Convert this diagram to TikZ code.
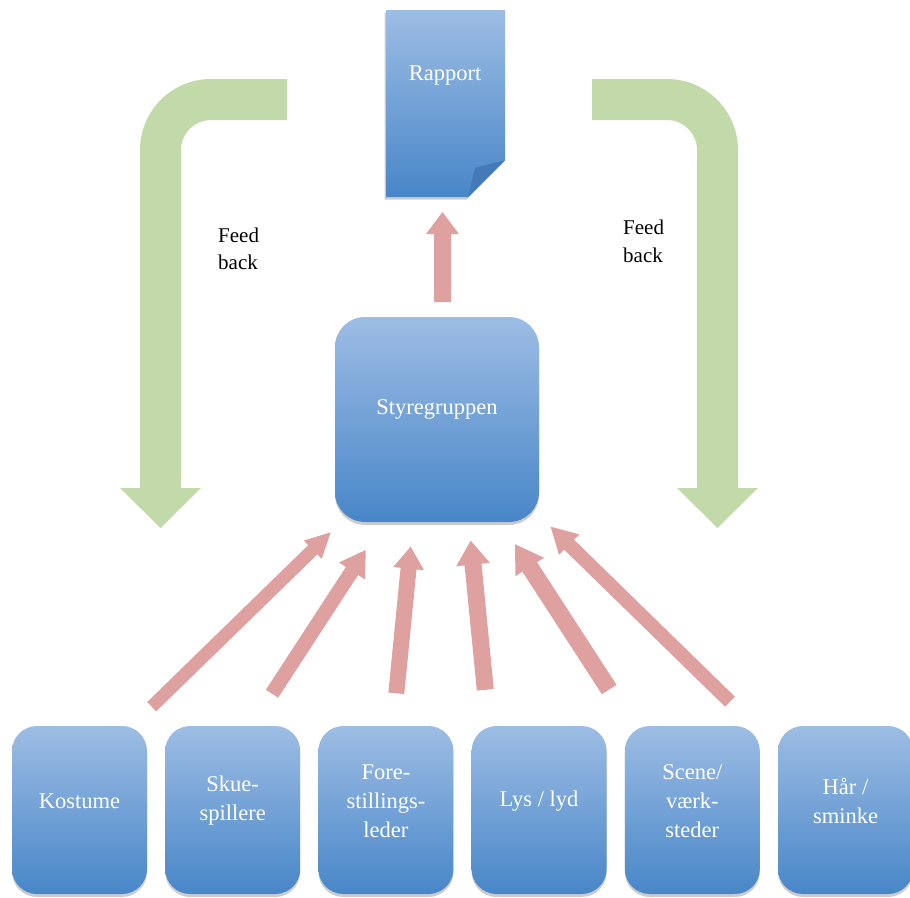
\documentclass[tikz,border=0pt]{standalone}
\usepackage{fontspec}
\setmainfont{Liberation Serif}
\usetikzlibrary{calc,shadows}
\definecolor{boxtop}{RGB}{157,189,228}
\definecolor{boxbot}{RGB}{72,134,200}
\definecolor{flapc}{RGB}{68,122,184}
\definecolor{arrowred}{RGB}{223,160,160}
\definecolor{arrowgreen}{RGB}{194,217,169}
\tikzset{
  bluebox/.style={rectangle, rounded corners=#1, top color=boxtop, bottom color=boxbot,
    draw=none, inner sep=0pt,
    drop shadow={shadow xshift=0pt, shadow yshift=-3pt, opacity=0.4}},
  bluebox/.default=25pt,
  smallbox/.style={bluebox=25pt, minimum width=135pt, minimum height=168pt},
  boxlabel/.style={text=white, align=center, inner sep=0pt, font=\fontsize{22.5}{29}\selectfont},
  feedtext/.style={text=black, align=left, inner sep=0pt, font=\fontsize{21}{27.5}\selectfont},
}
% tail, tip, half shaft width, half head width, head length
\newcommand\fatarrow[5]{%
  \coordinate (fa-b) at ($(#2)!#5!(#1)$);
  \fill[arrowred] ($(#1)!#3!90:(#2)$) -- ($(fa-b)!#3!90:(#2)$) -- ($(fa-b)!#4!90:(#2)$)
    -- (#2) -- ($(fa-b)!#4!-90:(#2)$) -- ($(fa-b)!#3!-90:(#2)$) -- ($(#1)!#3!-90:(#2)$) -- cycle;}
\begin{document}
\begin{tikzpicture}[x=1pt,y=-1pt]
\useasboundingbox (0,0) rectangle (910,897);
% feedback arrows
\fill[arrowgreen] (287,79) -- (211,79) .. controls (171.8,79) and (140,110.8) .. (140,150)
  -- (140,488) -- (120,488) -- (160.5,528) -- (201,488) -- (181,488) -- (181,150)
  .. controls (181,133.4) and (194.4,120) .. (211,120) -- (287,120) -- cycle;
\fill[arrowgreen] (592,79) -- (667,79) .. controls (706.2,79) and (738,110.8) .. (738,150)
  -- (738,488) -- (758,488) -- (717.5,528) -- (677,488) -- (697,488) -- (697,150)
  .. controls (697,133.4) and (683.6,120) .. (667,120) -- (592,120) -- cycle;
\node[feedtext, anchor=west] (fb1) at (218,249) {Feed\\back};
\node[feedtext, anchor=west] (fb2) at (623,241.5) {Feed\\back};
% Rapport document
\path[top color=boxtop, bottom color=boxbot,
  drop shadow={shadow xshift=-1.5pt, shadow yshift=-2.5pt, opacity=0.4}]
  (386,10) -- (505,10) -- (505,160) -- (468,197) -- (386,197) -- cycle;
\fill[flapc] (505,160) -- (468,197) -- (475,168) -- cycle;
\node[boxlabel] (rapport) at (445,76) {Rapport};
% Styregruppen
\node[bluebox=30pt, minimum width=204pt, minimum height=205pt,
  label={[boxlabel, yshift=10pt]center:Styregruppen}] (styre) at (437,419.5) {};
% bottom boxes
\node[smallbox, label={[boxlabel, yshift=9pt]center:Kostume}] (b1) at (79.5,810) {};
\node[smallbox, label={[boxlabel, yshift=9pt]center:{Skue-\\spillere}}] (b2) at (232.7,810) {};
\node[smallbox, label={[boxlabel, yshift=9pt]center:{Fore-\\stillings-\\leder}}] (b3) at (385.9,810) {};
\node[smallbox, label={[boxlabel, yshift=9pt]center:{Lys / lyd}}] (b4) at (539.1,810) {};
\node[smallbox, label={[boxlabel, yshift=9pt]center:{Scene/\\værk-\\steder}}] (b5) at (692.3,810) {};
\node[smallbox, label={[boxlabel, yshift=9pt]center:{Hår /\\sminke}}] (b6) at (845.5,810) {};
% red arrows
\coordinate (upT) at (442.5,302); \coordinate (upP) at (442.5,212);
\coordinate (t1) at (151.7,706.7); \coordinate (p1) at (330.7,532.3);
\coordinate (t2) at (272,693.7);   \coordinate (p2) at (365.7,550);
\coordinate (t3) at (396.3,693.3); \coordinate (p3) at (410.7,546.7);
\coordinate (t4) at (485.3,689.8); \coordinate (p4) at (470.7,540.7);
\coordinate (t5) at (609.2,689.5); \coordinate (p5) at (515,544.3);
\coordinate (t6) at (730,701.7);   \coordinate (p6) at (550.7,526.7);
\fatarrow{upT}{upP}{8.5pt}{16.5pt}{22pt}
\fatarrow{t1}{p1}{6.5pt}{12.8pt}{25pt}
\fatarrow{t2}{p2}{7.3pt}{15.5pt}{25pt}
\fatarrow{t3}{p3}{8pt}{15.5pt}{22pt}
\fatarrow{t4}{p4}{8.5pt}{17pt}{24pt}
\fatarrow{t5}{p5}{8.7pt}{17pt}{27pt}
\fatarrow{t6}{p6}{7pt}{14.4pt}{25.7pt}
\end{tikzpicture}
\end{document}
